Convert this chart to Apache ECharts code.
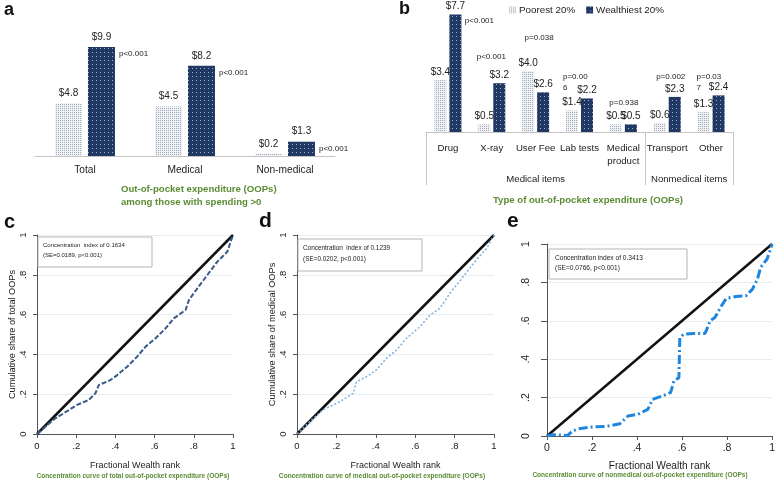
<!DOCTYPE html>
<html><head><meta charset="utf-8">
<script src="https://cdn.jsdelivr.net/npm/echarts@6/dist/echarts.min.js"></script>
<style>html,body{margin:0;padding:0;background:#fff}#main{width:778px;height:482px}</style>
</head><body><div id="main"></div>
<script>
// ---------- data ----------
const aCategories = ['Total', 'Medical', 'Non-medical'];
const aPoorest = [4.8, 4.5, 0.2];
const aWealthiest = [9.9, 8.2, 1.3];
const aPValues = ['p<0.001', 'p<0.001', 'p<0.001'];

const bCategories = ['Drug', 'X-ray', 'User Fee', 'Lab tests', 'Medical\nproduct', 'Transport', 'Other'];
const bPoorest = [3.4, 0.5, 4.0, 1.4, 0.5, 0.6, 1.3];
const bWealthiest = [7.7, 3.2, 2.6, 2.2, 0.5, 2.3, 2.4];
const bPValues = ['p<0.001', 'p<0.001', 'p=0.038', 'p=0.00\n6', 'p=0.938', 'p=0.002', 'p=0.03\n7'];
const bGroups = ['Medical items', 'Nonmedical items'];
const seriesNames = ['Poorest 20%', 'Wealthiest 20%'];

const cRank  = [0, .043, .094, .136, .204, .264, .298, .315, .375, .409, .46, .511, .554, .605, .656, .698, .758, .775, .818, .869, .92, .971, 1];
const cShare = [0, .037, .079, .104, .146, .171, .204, .246, .271, .296, .338, .389, .439, .481, .531, .581, .623, .673, .732, .799, .866, .916, 1];

const dRank  = [0, .064, .132, .217, .285, .302, .353, .403, .454, .505, .556, .624, .675, .725, .776, .844, .903, .963, 1];
const dShare = [0, .062, .121, .162, .204, .263, .288, .322, .38, .422, .481, .539, .598, .631, .707, .791, .866, .933, 1];

const eRank  = [0, .026, .092, .113, .142, .2, .259, .324, .36, .404, .448, .469, .52, .549, .564, .586, .59, .608, .651, .702, .717, .724, .746, .775, .797, .84, .884, .913, .935, .949, .978, .993, 1];
const eShare = [0, .007, .003, .026, .038, .047, .049, .064, .104, .113, .139, .191, .212, .226, .287, .304, .513, .53, .534, .534, .574, .6, .617, .678, .717, .727, .73, .765, .817, .878, .922, .974, 1];

const equality = [0, 1];
const concText = {
  c: ['Concentration  index of 0.1634', '(SE=0.0189, p<0.001)'],
  d: ['Concentration  index of 0.1239', '(SE=0.0202, p<0.001)'],
  e: ['Concentration index of 0.3413', '(SE=0.0766, p<0.001)']
};

// ---------- layout / style ----------
const SANS = "'Liberation Sans',Arial,sans-serif";
const GREEN = '#5b8c34';
const bPOffsets = [[24, 12], [-8, -21], [-4, -49], [-24, -5], [-7, -16], [-4, -15], [-22, -2]];
const bPAlign = ['center', 'center', 'center', 'left', 'center', 'center', 'left'];

const poorDecal = { symbol: 'rect', symbolSize: 1, dashArrayX: [1, 1], dashArrayY: [1, 1], color: '#a3abb7' };
const richDecal = { symbol: 'rect', symbolSize: 1, dashArrayX: [1, 3], dashArrayY: [1, 3], color: 'rgba(255,255,255,0.6)' };

const tickFmt = v => v === 0 ? '0' : v === 1 ? '1' : '.' + Math.round(v * 10);
const zip = (xs, ys) => xs.map((x, i) => [x, ys[i]]);
const money = p => '$' + Number(p.value).toFixed(1);

function lineX(grid, fs, nameFs, margin, gap) {
  return {
    type: 'value', gridIndex: grid, min: 0, max: 1, interval: 0.2,
    axisLine: { show: true, lineStyle: { color: '#555', width: 1 } },
    axisTick: { show: true, length: 4, lineStyle: { color: '#555' } },
    splitLine: { show: false },
    axisLabel: { formatter: tickFmt, fontSize: fs, color: '#222', margin: margin, fontFamily: SANS },
    name: 'Fractional Wealth rank', nameLocation: 'middle', nameGap: gap,
    nameTextStyle: { fontSize: nameFs, color: '#222', fontFamily: SANS }
  };
}
function lineY(grid, name, fs, margin, tick) {
  return {
    type: 'value', gridIndex: grid, min: 0, max: 1, interval: 0.2,
    axisLine: { show: true, lineStyle: { color: '#555', width: 1 } },
    axisTick: { show: true, length: tick, lineStyle: { color: '#555' } },
    splitLine: { show: true, lineStyle: { color: '#e4edf0', width: 1 } },
    axisLabel: { formatter: tickFmt, fontSize: fs, color: '#222', margin: margin, rotate: 90, fontFamily: SANS },
    name: name, nameLocation: 'middle', nameGap: 20,
    nameTextStyle: { fontSize: 9.2, color: '#222', fontFamily: SANS }
  };
}

function concBox(x, y, w, h, lines, fs, lh, pad) {
  return [
    { type: 'rect', shape: { x: x, y: y, width: w, height: h }, style: { fill: '#fff', stroke: '#b5b5b5', lineWidth: 1 }, z: 100 },
    { type: 'text', x: x + pad, y: y + 4, z: 101,
      style: { text: lines.join('\n'), fontSize: fs, lineHeight: lh, fontFamily: SANS, fill: '#222' } }
  ];
}
function txt(x, y, text, fs, opts) {
  return Object.assign({ type: 'text', x: x, y: y, z: 100,
    style: Object.assign({ text: text, fontSize: fs, fontFamily: SANS, fill: '#111' }, opts || {}) });
}

const option = {
  animation: false,
  backgroundColor: '#fff',
  legend: {
    data: seriesNames, left: 504, top: 0, itemWidth: 7, itemHeight: 7, itemGap: 11, icon: 'rect',
    textStyle: { fontFamily: SANS, fontSize: 9.8, color: '#222', padding: [0, 0, 0, -2] }
  },
  grid: [
    { left: 35, top: 24, width: 300, height: 132 },
    { left: 426, top: 10, width: 307, height: 122 },
    { left: 37, top: 235, width: 196, height: 199 },
    { left: 297, top: 235, width: 197, height: 199 },
    { left: 547, top: 244, width: 230, height: 192 }
  ],
  xAxis: [
    { type: 'category', gridIndex: 0, data: aCategories,
      axisLine: { lineStyle: { color: '#c4c4c4' } }, axisTick: { show: false },
      axisLabel: { fontFamily: SANS, fontSize: 10.2, color: '#222', margin: 9 } },
    { type: 'category', gridIndex: 1, data: bCategories,
      axisLine: { lineStyle: { color: '#c4c4c4' } }, axisTick: { show: false },
      axisLabel: { fontFamily: SANS, fontSize: 9.6, color: '#222', margin: 10, lineHeight: 13, interval: 0 } },
    { type: 'value', gridIndex: 1, min: 0, max: 7, position: 'bottom',
      axisLine: { show: false }, splitLine: { show: false },
      axisTick: { show: true, customValues: [0, 5, 7], length: 53, inside: false, lineStyle: { color: '#c4c4c4' } },
      axisLabel: { show: true, customValues: [2.5, 6], margin: 42, formatter: v => v < 5 ? bGroups[0] : bGroups[1],
        fontFamily: SANS, fontSize: 9.6, color: '#222' } },
    lineX(2, 9.5, 9, 7, 27),
    lineX(3, 9.5, 9, 7, 27),
    lineX(4, 10.5, 10.2, 7, 25)
  ],
  yAxis: [
    { type: 'value', gridIndex: 0, min: 0, max: 12, show: false },
    { type: 'value', gridIndex: 1, min: 0, max: 8, show: false },
    lineY(2, 'Cumulative share of total OOPs', 9.5, 9, 4),
    lineY(3, 'Cumulative share of medical OOPs', 9.5, 9, 4),
    Object.assign(lineY(4, '', 10.5, 15, 6), { name: '' })
  ],
  series: [
    // panel a
    { name: seriesNames[0], type: 'bar', xAxisIndex: 0, yAxisIndex: 0, data: aPoorest, barWidth: 27, barGap: '22%',
      itemStyle: { color: '#eef1f5', decal: poorDecal },
      label: { show: true, position: 'top', distance: 5, formatter: money, fontFamily: SANS, fontSize: 10, color: '#222' } },
    { name: seriesNames[1], type: 'bar', xAxisIndex: 0, yAxisIndex: 0, data: aWealthiest, barWidth: 27, barGap: '22%', stack: 'aw',
      itemStyle: { color: '#203864', decal: richDecal },
      label: { show: true, position: 'top', distance: 5, formatter: money, fontFamily: SANS, fontSize: 10, color: '#222' } },
    { name: 'pa', type: 'bar', xAxisIndex: 0, yAxisIndex: 0, data: aPValues.map(() => 0), barWidth: 27, barGap: '22%', stack: 'aw',
      silent: true, itemStyle: { color: 'rgba(0,0,0,0)' },
      label: { show: true, position: 'right', distance: 4, offset: [0, 7], formatter: p => aPValues[p.dataIndex],
        fontFamily: SANS, fontSize: 8, color: '#222' } },
    // panel b
    { name: seriesNames[0], type: 'bar', xAxisIndex: 1, yAxisIndex: 1, data: bPoorest, barWidth: 12, barGap: '25%',
      itemStyle: { color: '#eef1f5', decal: poorDecal },
      label: { show: true, position: 'top', distance: 3, formatter: money, fontFamily: SANS, fontSize: 10, color: '#222' } },
    { name: seriesNames[1], type: 'bar', xAxisIndex: 1, yAxisIndex: 1, data: bWealthiest, barWidth: 12, barGap: '25%', stack: 'bw',
      itemStyle: { color: '#203864', decal: richDecal },
      label: { show: true, position: 'top', distance: 3, formatter: money, fontFamily: SANS, fontSize: 10, color: '#222' } },
    { name: 'pb', type: 'bar', xAxisIndex: 1, yAxisIndex: 1, barWidth: 12, barGap: '25%', stack: 'bw', silent: true,
      itemStyle: { color: 'rgba(0,0,0,0)' },
      data: bPValues.map((t, i) => ({ value: 0, label: { offset: bPOffsets[i], align: bPAlign[i] } })),
      label: { show: true, position: 'top', distance: 0, formatter: p => bPValues[p.dataIndex],
        fontFamily: SANS, fontSize: 8, lineHeight: 11, color: '#222' } },
    // panel c
    { type: 'line', xAxisIndex: 3, yAxisIndex: 2, data: zip(equality, equality), symbol: 'none', silent: true,
      lineStyle: { color: '#111', width: 2.5 } },
    { type: 'line', xAxisIndex: 3, yAxisIndex: 2, data: zip(cRank, cShare), symbol: 'none', silent: true,
      lineStyle: { color: '#3a5a8a', width: 2, type: [5, 2] } },
    // panel d
    { type: 'line', xAxisIndex: 4, yAxisIndex: 3, data: zip(equality, equality), symbol: 'none', silent: true,
      lineStyle: { color: '#111', width: 2.5 } },
    { type: 'line', xAxisIndex: 4, yAxisIndex: 3, data: zip(dRank, dShare), symbol: 'none', silent: true,
      lineStyle: { color: '#79b0e2', width: 1.5, type: [2, 2] } },
    // panel e
    { type: 'line', xAxisIndex: 5, yAxisIndex: 4, data: zip(equality, equality), symbol: 'none', silent: true,
      lineStyle: { color: '#111', width: 2.5 } },
    { type: 'line', xAxisIndex: 5, yAxisIndex: 4, data: zip(eRank, eShare), symbol: 'none', silent: true,
      lineStyle: { color: '#1f86e0', width: 3, type: [9, 3, 2, 3] } }
  ],
  graphic: [].concat(
    txt(4, 1, 'a', 18, { fontWeight: 'bold' }),
    txt(399, 0, 'b', 18, { fontWeight: 'bold' }),
    txt(4, 212, 'c', 20, { fontWeight: 'bold' }),
    txt(259, 211, 'd', 21, { fontWeight: 'bold' }),
    txt(507, 211, 'e', 21, { fontWeight: 'bold' }),
    txt(121, 183, 'Out-of-pocket expenditure (OOPs)\namong those with spending >0', 9.6,
      { fontWeight: 'bold', fill: GREEN, lineHeight: 13 }),
    txt(588, 200, 'Type of out-of-pocket expenditure (OOPs)', 9.6,
      { fontWeight: 'bold', fill: GREEN, textAlign: 'center', textVerticalAlign: 'middle' }),
    txt(133, 476, 'Concentration curve of total out-of-pocket expenditure (OOPs)', 6.5,
      { fontWeight: 'bold', fill: GREEN, textAlign: 'center', textVerticalAlign: 'middle' }),
    txt(382, 476, 'Concentration curve of medical out-of-pocket expenditure (OOPs)', 6.6,
      { fontWeight: 'bold', fill: GREEN, textAlign: 'center', textVerticalAlign: 'middle' }),
    txt(640, 475, 'Concentration curve of nonmedical out-of-pocket expenditure (OOPs)', 6.5,
      { fontWeight: 'bold', fill: GREEN, textAlign: 'center', textVerticalAlign: 'middle' }),
    concBox(38, 237, 114, 30, concText.c, 6, 9.5, 5),
    concBox(298, 239, 124, 32, concText.d, 6.4, 11, 5),
    concBox(549, 249, 138, 30, concText.e, 6.6, 10, 6)
  )
};

const chart = echarts.init(document.getElementById('main'), null, { renderer: 'canvas', width: 778, height: 482 });
chart.setOption(option);
</script>
</body></html>
